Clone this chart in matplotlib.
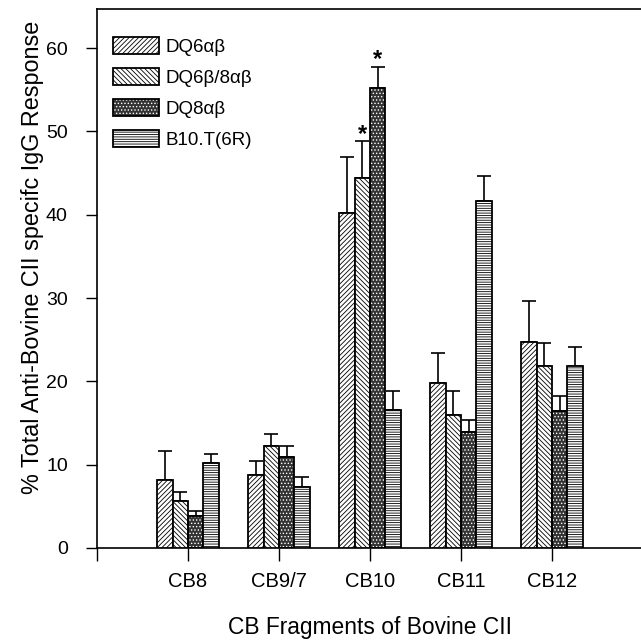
import numpy as np
import matplotlib
matplotlib.use('Agg')
import matplotlib.pyplot as plt
from matplotlib.patches import Patch
from matplotlib.legend_handler import HandlerTuple

plt.rcParams['font.family'] = ['Liberation Sans', 'DejaVu Sans']
plt.rcParams['hatch.linewidth'] = 0.6

categories = ['CB8', 'CB9/7', 'CB10', 'CB11', 'CB12']
groups = ['DQ6\u03b1\u03b2', 'DQ6\u03b2/8\u03b1\u03b2', 'DQ8\u03b1\u03b2', 'B10.T(6R)']

dq6 = [8.2, 8.8, 40.2, 19.8, 24.7]
dq6_err = [3.4, 1.6, 6.7, 3.6, 5.0]
dq68 = [5.7, 12.3, 44.4, 16.0, 21.8]
dq68_err = [1.0, 1.4, 4.4, 2.9, 2.8]
dq8 = [3.8, 10.9, 55.2, 13.9, 16.4]
dq8_err = [0.7, 1.3, 2.5, 1.5, 1.8]
b10 = [10.2, 7.3, 16.6, 41.7, 21.9]
b10_err = [1.1, 1.2, 2.3, 2.9, 2.2]

# marked significant (CB10, DQ6b/8ab and DQ8ab)
stars = [(2, 1), (2, 2)]

values = [dq6, dq68, dq8, b10]
errors = [dq6_err, dq68_err, dq8_err, b10_err]
hatches = ['/' * 7, '\\' * 7, '', '-' * 7]

fig = plt.figure(figsize=(6.41, 6.41), dpi=100)
ax = fig.add_axes([97/641, 93/641, 546/641, 539/641])

x = np.arange(1, len(categories) + 1)
w = 0.17
handles = []
for i, (vals, errs, h) in enumerate(zip(values, errors, hatches)):
    xs = x + (i - 1.5) * w
    if i == 2:
        # dark dotted fill
        ax.bar(xs, vals, w, color='0.2', edgecolor='white', hatch='.....', lw=0, zorder=2)
        ax.bar(xs, vals, w, fill=False, edgecolor='black', lw=1.3, zorder=3)
        handles.append((Patch(facecolor='0.2', edgecolor='white', hatch='.....', lw=0),
                        Patch(fill=False, edgecolor='black', lw=1.3)))
    else:
        ax.bar(xs, vals, w, color='white', edgecolor='black', hatch=h, lw=1.3, zorder=3)
        handles.append(Patch(facecolor='white', edgecolor='black', hatch=h, lw=1.3))
    ax.errorbar(xs, vals, yerr=[np.zeros(len(vals)), errs], fmt='none', ecolor='black',
                elinewidth=1.2, capsize=5, capthick=1.2, zorder=1)

for ci, gi in stars:
    top = values[gi][ci] + errors[gi][ci]
    ax.text(x[ci] + (gi - 1.5) * w, top + 0.1, '*', ha='center', va='baseline',
            fontsize=17, fontweight='bold')

ax.set_xlim(0, 6)
ax.set_ylim(0, 64.7)
ax.set_xticks([0] + list(x))
ax.set_xticklabels([''] + categories, fontsize=14.5)
ax.set_yticks(range(0, 61, 10))
ax.tick_params(axis='y', direction='out', length=8, width=1, labelsize=14, pad=13)
ax.tick_params(axis='x', direction='out', length=9, width=1, pad=8)
ax.spines['right'].set_visible(False)
for s in ['left', 'bottom', 'top']:
    ax.spines[s].set_linewidth(1.2)

ax.set_ylabel('% Total Anti-Bovine CII specifc IgG Response', fontsize=16.8)
ax.yaxis.set_label_coords(-0.097, 0.54)
ax.set_xlabel('CB Fragments of Bovine CII', fontsize=16.4, labelpad=18)

ax.legend(handles, groups, loc='upper left', bbox_to_anchor=(0.029, 0.948),
          frameon=False, fontsize=13.5, handlelength=2.45, handleheight=1.0,
          labelspacing=0.65, handletextpad=0.37, borderpad=0, borderaxespad=0,
          handler_map={tuple: HandlerTuple(ndivide=1)})

fig.savefig('out.png', dpi=100)
